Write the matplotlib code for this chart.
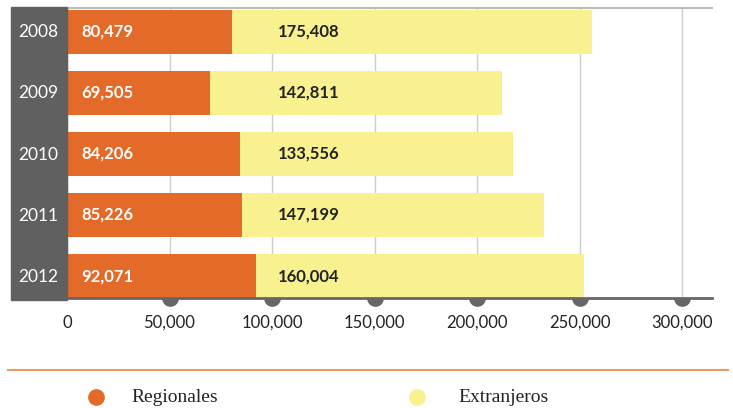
import numpy as np
import matplotlib
matplotlib.use("Agg")
import matplotlib.pyplot as plt
from matplotlib.patches import Rectangle
from matplotlib.lines import Line2D

years = ['2008', '2009', '2010', '2011', '2012']
regionales = [80479, 69505, 84206, 85226, 92071]
extranjeros = [175408, 142811, 133556, 147199, 160004]
xticks = [0, 50000, 100000, 150000, 200000, 250000, 300000]

orange = '#e36a28'
yellow = '#f9f18f'
panel = '#5f605f'
sans = ['Lato', 'DejaVu Sans']
serif = ['Liberation Serif', 'DejaVu Serif']

W, H = 733, 408
fig = plt.figure(figsize=(W/100, H/100), dpi=100)
ax = fig.add_axes([67/W, 1-298/H, (712-67)/W, (298-8)/H])

ypos = np.arange(len(years))
ax.barh(ypos, regionales, height=0.72, color=orange, zorder=3)
ax.barh(ypos, extranjeros, left=regionales, height=0.72, color=yellow, zorder=3)

for i in range(len(years)):
    ax.text(7000, ypos[i], f'{regionales[i]:,}', color='white', fontsize=12,
            fontweight='bold', va='center', ha='left', family=sans, zorder=4)
    ax.text(103000, ypos[i], f'{extranjeros[i]:,}', color='#222222', fontsize=12,
            fontweight='bold', va='center', ha='left', family=sans, zorder=4)

ax.set_xlim(0, 314600)
ax.set_ylim(4.36, -0.39)
ax.set_xticks(xticks)
ax.set_xticklabels([f'{t:,}' for t in xticks], fontsize=12, color='#222222', family=sans)
ax.set_yticks([])
ax.tick_params(axis='x', length=0, pad=12)
ax.grid(axis='x', color='#cccccc', linewidth=1, zorder=0)
for s in ['left', 'right']:
    ax.spines[s].set_visible(False)
ax.spines['top'].set_color('#bbbbbb')
ax.spines['top'].set_linewidth(1.5)
ax.spines['bottom'].set_color('#666666')
ax.spines['bottom'].set_linewidth(2)
ax.spines['bottom'].set_zorder(5)

# half-round bumps under the axis at each tick
t = np.linspace(np.pi, 2*np.pi, 30)
half = np.column_stack([np.cos(t), np.sin(t)])
half = np.vstack([half, [[1, 0], [-1, 0]]])
ax.plot(xticks[1:], [4.36]*6, linestyle='none', marker=half, markersize=12,
        color='#666666', markeredgewidth=0, clip_on=False, zorder=5)

# gray year panel
fig.patches.append(Rectangle((11/W, 1-300/H), (67-11)/W, (300-7)/H,
                             transform=fig.transFigure, color=panel, zorder=0))
for i, y in enumerate(years):
    yp = 1 - (32 + i*61.25)/H
    fig.text(38/W, yp, y, color='white', fontsize=12.5, ha='center', va='center', family=sans)

# legend
fig.add_artist(Line2D([8/W, 728/W], [1-370/H, 1-370/H], color='#ef9a66', linewidth=1.5))
fig.add_artist(Line2D([96/W], [1-397/H], marker='o', markersize=11, color=orange, linestyle='none'))
fig.text(131/W, 1-397/H, 'Regionales', fontsize=14, va='center', family=serif, color='#222222')
fig.add_artist(Line2D([417/W], [1-397/H], marker='o', markersize=11, color=yellow, linestyle='none'))
fig.text(458/W, 1-397/H, 'Extranjeros', fontsize=14, va='center', family=serif, color='#222222')

fig.savefig('out.png', dpi=100)
